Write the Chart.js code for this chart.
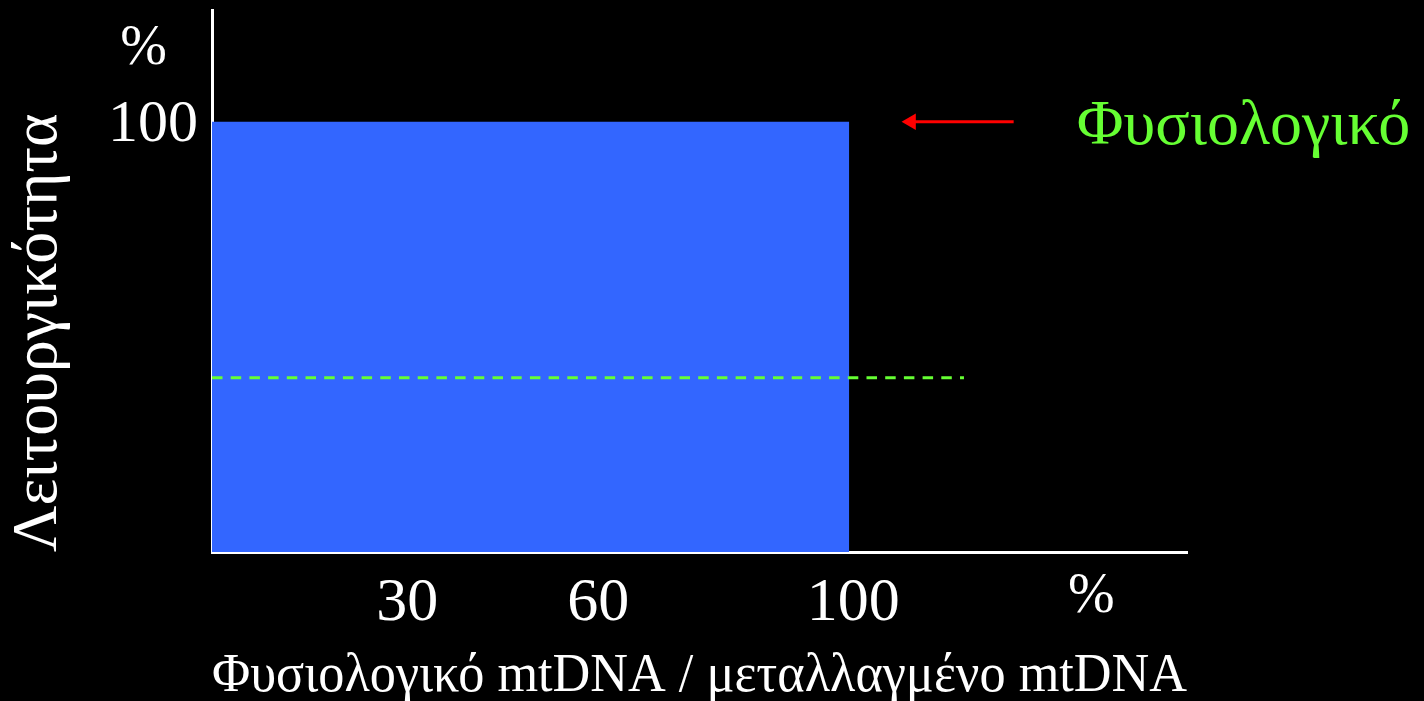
<!DOCTYPE html>
<html lang="el">
<head>
<meta charset="utf-8">
<title>Λειτουργικότητα – mtDNA</title>
<script src="https://cdn.jsdelivr.net/npm/chart.js@4.4.1/dist/chart.umd.min.js"></script>
<style>
  html, body { margin: 0; padding: 0; background: #000; overflow: hidden; }
  #wrap { width: 1424px; height: 701px; }
</style>
</head>
<body>
<div id="wrap"><canvas id="c" width="1424" height="701"></canvas></div>
<script>
// Functional level (%) against the share of normal mtDNA (%)
const barRange = [0, 100];          // x span of the filled block
const barLevel = 100;               // functional level of the block
const thresholdRange = [0, 118];    // x span of the dashed threshold
const thresholdLevel = 40.5;        // threshold level
const arrowRange = [109.7, 125.8];  // arrow pointing at the 100 % level
const arrowLevel = 100;
const xTicks = [30, 60, 100];
const yTicks = [100];
const xMax = 153;
const yMax = 126;
const xUnitLabel = '%';
const yUnitLabel = '%';
const normalLabel = 'Φυσιολογικό';
const xTitle = 'Φυσιολογικό mtDNA / μεταλλαγμένο mtDNA';
const yTitle = 'Λειτουργικότητα';

const family = "'Liberation Serif', 'DejaVu Serif', serif";

const annotate = {
  id: 'annotate',
  beforeDraw(chart) {
    const { ctx, width, height } = chart;
    ctx.save();
    ctx.fillStyle = '#000';
    ctx.fillRect(0, 0, width, height);
    ctx.restore();
  },
  afterDraw(chart) {
    const { ctx, scales: { x, y } } = chart;
    ctx.save();
    ctx.fillStyle = '#fff';
    ctx.textAlign = 'center';
    ctx.textBaseline = 'alphabetic';
    ctx.font = `56px ${family}`;
    // unit marks for both axes
    ctx.fillText(yUnitLabel, x.left - 68.5, y.getPixelForValue(113.5));
    ctx.fillText(xUnitLabel, x.getPixelForValue(138), x.top + 60);
    // label next to the arrow
    ctx.fillStyle = '#66ff33';
    ctx.textAlign = 'left';
    ctx.font = `64px ${family}`;
    ctx.fillText(normalLabel, x.getPixelForValue(135.7), y.getPixelForValue(arrowLevel) + 22);
    ctx.restore();
  }
};

new Chart(document.getElementById('c'), {
  type: 'line',
  data: {
    datasets: [
      {
        label: 'block',
        data: barRange.map(v => ({ x: v, y: barLevel })),
        fill: 'origin',
        backgroundColor: '#3366ff',
        borderColor: 'rgba(0,0,0,0)',
        borderWidth: 0,
        pointRadius: 0,
        order: 3
      },
      {
        label: 'threshold',
        data: thresholdRange.map(v => ({ x: v, y: thresholdLevel })),
        fill: false,
        borderColor: '#66ff33',
        borderWidth: 3,
        borderDash: [10.5, 8.2],
        pointRadius: 0,
        order: 2
      },
      {
        label: 'arrow',
        data: arrowRange.map(v => ({ x: v, y: arrowLevel })),
        fill: false,
        borderColor: '#ff0000',
        borderWidth: 3,
        pointStyle: 'triangle',
        pointRotation: 270,
        pointRadius: [9.5, 0],
        pointBackgroundColor: '#ff0000',
        pointBorderColor: '#ff0000',
        pointBorderWidth: 0,
        order: 1
      }
    ]
  },
  options: {
    responsive: false,
    animation: false,
    events: [],
    layout: { padding: { left: 0, top: 10, right: 237, bottom: 0 } },
    plugins: { legend: { display: false }, tooltip: { enabled: false } },
    scales: {
      x: {
        type: 'linear',
        min: 0,
        max: xMax,
        z: 1,
        grid: { display: false, drawTicks: false },
        border: { display: true, color: '#fff', width: 3 },
        afterBuildTicks: s => { s.ticks = xTicks.map(v => ({ value: v })); },
        afterFit: s => { s.height = 149; s.paddingLeft = 0; s.paddingRight = 0; },
        ticks: {
          color: '#fff',
          font: { family, size: 62 },
          padding: 15,
          labelOffset: 4,
          maxRotation: 0,
          autoSkip: false,
          callback: v => String(v)
        },
        title: {
          display: true,
          text: xTitle,
          color: '#fff',
          align: 'start',
          font: { family, size: 54, lineHeight: 1 },
          padding: { top: 0, bottom: -3 }
        }
      },
      y: {
        type: 'linear',
        min: 0,
        max: yMax,
        z: 1,
        grid: { display: false, drawTicks: false },
        border: { display: true, color: '#fff', width: 3 },
        afterBuildTicks: s => { s.ticks = yTicks.map(v => ({ value: v })); },
        afterFit: s => { s.width = 212; s.paddingTop = 0; s.paddingBottom = 0; },
        ticks: {
          color: '#fff',
          font: { family, size: 60 },
          padding: 14,
          labelOffset: 3,
          callback: v => String(v)
        },
        title: {
          display: true,
          text: yTitle,
          color: '#fff',
          align: 'start',
          font: { family, size: 64 },
          padding: { top: 1, bottom: 0 }
        }
      }
    }
  },
  plugins: [annotate]
});
</script>
</body>
</html>
